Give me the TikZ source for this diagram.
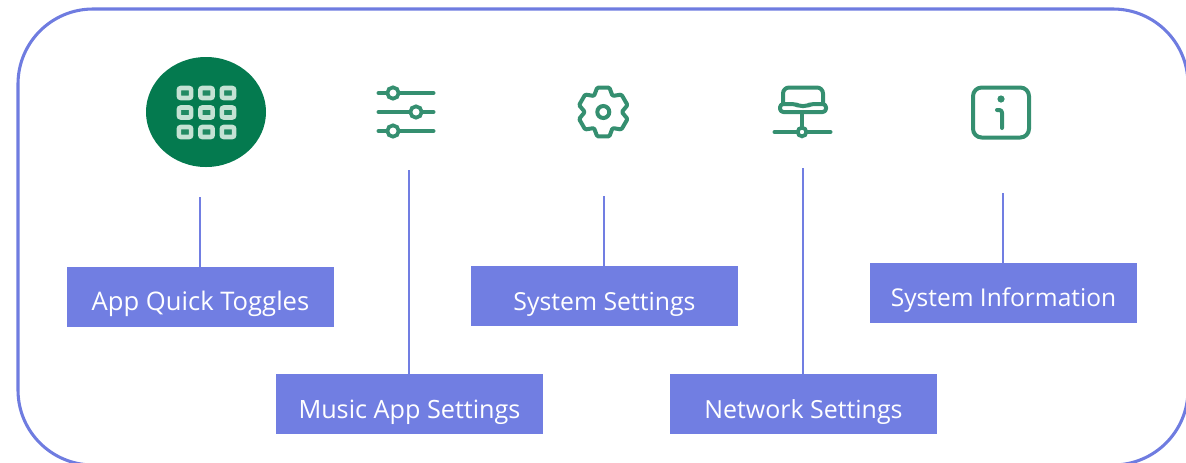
\documentclass[tikz,border=0pt]{standalone}
\usepackage{fontspec}
\setmainfont{Open Sans}
\definecolor{boxblue}{HTML}{717EE2}
\definecolor{framblue}{HTML}{6F7CE0}
\definecolor{icongreen}{HTML}{358F70}
\definecolor{discgreen}{HTML}{047A4F}
\definecolor{palegreen}{HTML}{C4E2D4}
\tikzset{
  label box/.style={draw=none,fill=boxblue,text=white,minimum width=200.25pt,minimum height=45pt,inner sep=0pt},
  label text/.style={text=white,inner sep=0pt,anchor=base,font=\fontsize{#1}{22}\selectfont},
  link/.style={draw=boxblue,line width=2.1pt},
  icon line/.style={draw=icongreen,line width=3pt,line cap=round,line join=round},
  knob/.style={circle,draw=icongreen,fill=white,line width=2.8pt,minimum size=8.5pt,inner sep=0pt},
  cell/.style={draw=palegreen,fill=discgreen!85!palegreen,line width=3.4pt,rounded corners=1.5pt}
}
\begin{document}
\begin{tikzpicture}[x=0.75pt,y=-0.75pt]
\useasboundingbox (0,0) rectangle (1186,462);
\begin{scope}
\clip (0,0) rectangle (1186,462);
\draw[draw=framblue,line width=2.3pt,rounded corners=56.25pt] (18,9) rectangle (1188,465);
\end{scope}
% icon anchors
\coordinate (i1) at (200,197);
\coordinate (i2) at (409,170);
\coordinate (i3) at (604,196);
\coordinate (i4) at (803,168);
\coordinate (i5) at (1003,193);
% boxes
\node[label box] (b1) at (200.5,297) {};
\node[label box] (b2) at (409.5,404) {};
\node[label box] (b3) at (604.5,296) {};
\node[label box] (b4) at (803.5,404) {};
\node[label box] (b5) at (1003.5,293) {};
\node[label text=19.2] (t1) at (200.5,310) {App Quick Toggles};
\node[label text=18.9] (t2) at (409.5,418) {Music App Settings};
\node[label text=18.6] (t3) at (604.5,310) {System Settings};
\node[label text=18.7] (t4) at (803.5,418) {Network Settings};
\node[label text=18.4] (t5) at (1003.5,306) {System Information};
\draw[link] (i1) -- (i1 |- b1.north);
\draw[link] (i2) -- (i2 |- b2.north);
\draw[link] (i3) -- (i3 |- b3.north);
\draw[link] (i4) -- (i4 |- b4.north);
\draw[link] (i5) -- (i5 |- b5.north);
% app grid icon
\fill[discgreen] (206,112) ellipse [x radius=60,y radius=55];
\foreach \cx in {185,206.5,228}
  \foreach \cy in {93,112.5,132}
    \draw[cell] (\cx-6.2,\cy-5) rectangle (\cx+6.2,\cy+5);
% sliders icon
\draw[icon line] (378.5,93) -- (433.5,93);
\draw[icon line] (378.5,112) -- (433.5,112);
\draw[icon line] (378.5,131) -- (433.5,131);
\node[knob] at (393,93) {};
\node[knob] at (416,112) {};
\node[knob] at (393,131) {};
% gear icon
\draw[icon line,rounded corners=0.9pt]
  ([shift={(603.3,112)}]104:25.2)
  \foreach \a in {90,30,-30,-90,-150}{
    -- ([shift={(603.3,112)}]\a-14:25.2)
    -- ([shift={(603.3,112)}]\a-30:18.5)
    -- ([shift={(603.3,112)}]\a-46:25.2)
  }
  -- ([shift={(603.3,112)}]-224:25.2)
  -- ([shift={(603.3,112)}]-240:18.5) -- cycle;
\node[knob,minimum size=9pt,line width=3pt] at (603.3,112) {};
% network icon
\draw[icon line,rounded corners=4.5pt] (783,104) -- (783,87.5) -- (823,87.5) -- (823,104);
\draw[icon line,rounded corners=2.5pt] (780,104) -- (795,104) -- (799,106) -- (807,106) -- (811,104) -- (826,104) -- (826,112) -- (780,112) -- cycle;
\draw[icon line] (802,112) -- (802,132);
\draw[icon line] (774.5,132) -- (830.5,132);
\node[knob,minimum size=6.5pt] at (802,132) {};
% info icon
\draw[icon line,rounded corners=6.5pt] (973,87.5) rectangle (1029,137.5);
\fill[icongreen] (1001,99) circle (3.6);
\draw[icon line,rounded corners=2pt] (997,110) -- (1002,110) -- (1002,128);
\end{tikzpicture}
\end{document}
